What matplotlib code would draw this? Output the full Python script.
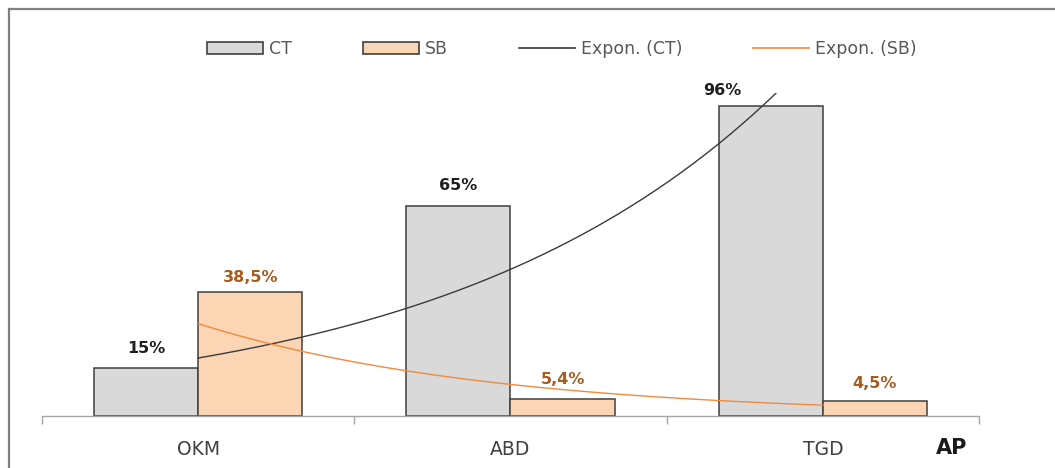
import numpy as np
import matplotlib
matplotlib.use("Agg")
import matplotlib.pyplot as plt
from matplotlib.patches import Patch
from matplotlib.lines import Line2D

# Data
categories = ["OKM", "ABD", "TGD"]
ct_values = [15, 65, 96]
sb_values = [38.5, 5.4, 4.5]
ct_labels = ["15%", "65%", "96%"]
sb_labels = ["38,5%", "5,4%", "4,5%"]

W, H = 1055, 468
fig = plt.figure(figsize=(W / 100, H / 100), dpi=100)
ax = fig.add_axes([42 / W, 52 / H, 937 / W, 323 / H])

ct_fill, sb_fill = "#d9d9d9", "#fcd5b4"
edge = "#3f3f3f"
ct_text, sb_text = "#1f1f1f", "#a65b1f"
trend_ct, trend_sb = "#3a3a3a", "#f08a3c"

x = np.arange(len(categories))
bw = 1 / 3
ax.bar(x - bw / 2, ct_values, width=bw, color=ct_fill, edgecolor=edge, linewidth=1.1, zorder=2)
ax.bar(x + bw / 2, sb_values, width=bw, color=sb_fill, edgecolor=edge, linewidth=1.1, zorder=2)

# Exponential trendlines fitted over category positions 1..n
xs = np.linspace(0, len(categories) - 1, 300)
for vals, col in ((ct_values, trend_ct), (sb_values, trend_sb)):
    b, a = np.polyfit(x + 1, np.log(vals), 1)
    ax.plot(xs, np.exp(a + b * (xs + 1)), color=col, linewidth=1.0, zorder=3)

# Value labels
ct_offsets = [(0, 14), (0, 14.5), (-35, 11)]
sb_offsets = [(0, 10), (0, 13.5), (0, 13)]
for i in range(len(categories)):
    ax.annotate(ct_labels[i], (x[i] - bw / 2, ct_values[i]), xytext=ct_offsets[i],
                textcoords="offset points", ha="center", va="center",
                fontsize=11.5, fontweight="bold", color=ct_text, annotation_clip=False)
    ax.annotate(sb_labels[i], (x[i] + bw / 2, sb_values[i]), xytext=sb_offsets[i],
                textcoords="offset points", ha="center", va="center",
                fontsize=11.5, fontweight="bold", color=sb_text, annotation_clip=False)

ax.set_xlim(-0.5, len(categories) - 0.5)
ax.set_ylim(0, 100)
for s in ("left", "top", "right"):
    ax.spines[s].set_visible(False)
ax.spines["bottom"].set_color("#a6a6a6")
ax.spines["bottom"].set_linewidth(1.0)
ax.set_yticks([])
ax.set_xticks(x)
ax.set_xticklabels(categories, fontsize=13.5, color="#404040")
ax.set_xticks(np.arange(-0.5, len(categories), 1.0), minor=True)
ax.tick_params(axis="x", which="major", length=0, pad=17)
ax.tick_params(axis="x", which="minor", length=6, width=1.0, color="#a6a6a6", direction="out")

fig.text(952 / W, 1 - 448 / H, "AP", ha="center", va="center",
         fontsize=15, fontweight="bold", color="#1a1a1a")

# Legend
handles = [
    Patch(facecolor=ct_fill, edgecolor=edge, linewidth=1.2),
    Patch(facecolor=sb_fill, edgecolor=edge, linewidth=1.2),
    Line2D([], [], color=trend_ct, linewidth=1.2),
    Line2D([], [], color=trend_sb, linewidth=1.2),
]
fig.legend(handles, ["CT", "SB", "Expon. (CT)", "Expon. (SB)"],
           loc="center", bbox_to_anchor=(562 / W, 1 - 49 / H), ncol=4,
           frameon=False, fontsize=12.5, labelcolor="#595959",
           handlelength=3.2, handleheight=0.65, handletextpad=0.35,
           columnspacing=4.1)

# Outer chart frame
fx, fy = 9 / W, 1 - 9 / H
fig.add_artist(Line2D([fx, fx], [0, fy], transform=fig.transFigure, color="#808080", linewidth=1.6))
fig.add_artist(Line2D([fx, 1], [fy, fy], transform=fig.transFigure, color="#808080", linewidth=1.6))

fig.savefig("out.png", dpi=100)
